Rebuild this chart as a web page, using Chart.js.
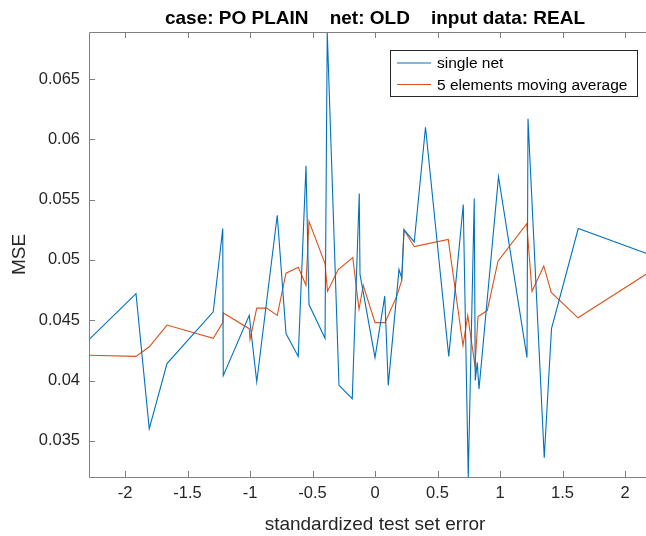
<!DOCTYPE html>
<html>
<head>
<meta charset="utf-8">
<script src="https://cdn.jsdelivr.net/npm/chart.js@4.4.0/dist/chart.umd.min.js"></script>
<style>
  html, body { margin: 0; padding: 0; overflow: hidden; background: #fff; }
  #wrap { width: 680px; height: 536px; }
</style>
</head>
<body>
<div id="wrap"><canvas id="chart" width="680" height="536"></canvas></div>
<script>
// single net
const netX = [-2.288, -1.912, -1.806, -1.664, -1.294, -1.218, -1.214, -1.006, -0.946, -0.782,
  -0.712, -0.614, -0.552, -0.528, -0.400, -0.382, -0.288, -0.182, -0.126, -0.120,
  0.000, 0.078, 0.106, 0.192, 0.214, 0.232, 0.314, 0.404, 0.590, 0.706,
  0.746, 0.794, 0.802, 0.818, 0.832, 0.988, 1.216, 1.224, 1.354, 1.412, 1.626, 2.288];
const netMse = [0.0434, 0.0472, 0.0360, 0.0414, 0.0457, 0.0526, 0.0404, 0.0454, 0.0399, 0.0537,
  0.0439, 0.0420, 0.0578, 0.0463, 0.0435, 0.0689, 0.0396, 0.0385, 0.0555, 0.0488,
  0.0419, 0.0470, 0.0396, 0.0492, 0.0485, 0.0525, 0.0515, 0.0610, 0.0420, 0.0546,
  0.0320, 0.0551, 0.0400, 0.0415, 0.0393, 0.0569, 0.0419, 0.0617, 0.0336, 0.0443, 0.0526, 0.0501];

// 5 elements moving average
const avgX = [-2.288, -1.912, -1.806, -1.664, -1.294, -1.218, -1.214, -1.006, -1.000, -0.946,
  -0.866, -0.782, -0.712, -0.614, -0.552, -0.528, -0.400, -0.380, -0.294, -0.178,
  -0.128, -0.094, 0.000, 0.080, 0.174, 0.214, 0.232, 0.314, 0.586, 0.704,
  0.742, 0.800, 0.824, 0.898, 0.984, 1.214, 1.256, 1.350, 1.410, 1.624, 2.288];
const avgMse = [0.0421, 0.0420, 0.0428, 0.0446, 0.0435, 0.0448, 0.0456, 0.0443, 0.0434, 0.0460,
  0.0460, 0.0454, 0.0489, 0.0494, 0.0479, 0.0532, 0.0497, 0.0474, 0.0492, 0.0502,
  0.0459, 0.0479, 0.0448, 0.0448, 0.0470, 0.0483, 0.0525, 0.0511, 0.0517, 0.0429,
  0.0454, 0.0412, 0.0453, 0.0458, 0.0499, 0.0530, 0.0474, 0.0495, 0.0473, 0.0452, 0.0496];

const xTicks = [-2, -1.5, -1, -0.5, 0, 0.5, 1, 1.5, 2];
const yTicks = [0.035, 0.04, 0.045, 0.05, 0.055, 0.06, 0.065];

const titleText = 'case: PO PLAIN    net: OLD    input data: REAL';
const FONT = '"Liberation Sans", Arial, Helvetica, sans-serif';

// matlab style box, inward ticks, title and legend
const axesBox = {
  id: 'axesBox',
  afterDraw(chart) {
    const { ctx, chartArea: a, scales } = chart;
    ctx.save();
    ctx.strokeStyle = '#7f7f7f';
    ctx.lineWidth = 1;
    ctx.beginPath();
    ctx.rect(a.left + 0.5, a.top + 0.5, a.right - a.left, a.bottom - a.top);
    xTicks.forEach(v => {
      const px = Math.round(scales.x.getPixelForValue(v)) + 0.5;
      ctx.moveTo(px, a.bottom); ctx.lineTo(px, a.bottom - 6);
      ctx.moveTo(px, a.top); ctx.lineTo(px, a.top + 6);
    });
    yTicks.forEach(v => {
      const py = Math.round(scales.y.getPixelForValue(v)) + 0.5;
      ctx.moveTo(a.left, py); ctx.lineTo(a.left + 6, py);
      ctx.moveTo(a.right, py); ctx.lineTo(a.right - 6, py);
    });
    ctx.stroke();

    // title
    ctx.fillStyle = '#000';
    ctx.font = 'bold 19px ' + FONT;
    ctx.textAlign = 'center';
    ctx.textBaseline = 'alphabetic';
    ctx.fillText(titleText, (a.left + a.right) / 2, 24);

    // legend
    const lx = 390.5, ly = 50.5, lw = 247, lh = 46;
    ctx.fillStyle = '#fff';
    ctx.fillRect(lx, ly, lw, lh);
    ctx.strokeStyle = '#262626';
    ctx.strokeRect(lx, ly, lw, lh);
    ctx.font = '15.5px ' + FONT;
    ctx.textAlign = 'left';
    ctx.textBaseline = 'middle';
    chart.data.datasets.forEach((ds, i) => {
      const yy = 63 + i * 21.5;
      ctx.strokeStyle = ds.borderColor;
      ctx.lineWidth = 1.1;
      ctx.beginPath();
      ctx.moveTo(397, yy); ctx.lineTo(431, yy);
      ctx.stroke();
      ctx.fillStyle = '#000';
      ctx.fillText(ds.label, 437, yy + 1);
    });
    ctx.restore();
  }
};

const ctx = document.getElementById('chart').getContext('2d');
new Chart(ctx, {
  type: 'scatter',
  data: {
    datasets: [
      {
        label: 'single net',
        data: netX.map((x, i) => ({ x: x, y: netMse[i] })),
        showLine: true, borderColor: '#0072BD', borderWidth: 1.1,
        pointRadius: 0, tension: 0, clip: 2
      },
      {
        label: '5 elements moving average',
        data: avgX.map((x, i) => ({ x: x, y: avgMse[i] })),
        showLine: true, borderColor: '#D95319', borderWidth: 1.1,
        pointRadius: 0, tension: 0, clip: 2
      }
    ]
  },
  options: {
    responsive: false,
    animation: false,
    devicePixelRatio: 1,
    layout: { padding: { top: 32, right: 19, left: 0, bottom: 0 } },
    plugins: { legend: { display: false }, title: { display: false }, tooltip: { enabled: false } },
    scales: {
      x: {
        type: 'linear', min: -2.288, max: 2.288,
        grid: { display: false, drawTicks: false },
        border: { display: false },
        afterBuildTicks: s => { s.ticks = xTicks.map(v => ({ value: v })); },
        afterFit: s => { s.height = 59; },
        ticks: {
          font: { family: FONT, size: 16.5 }, color: '#262626', padding: 7,
          maxRotation: 0, autoSkip: false,
          callback: v => String(v)
        },
        title: {
          display: true, text: 'standardized test set error',
          font: { family: FONT, size: 19 }, color: '#262626',
          padding: { top: 0, bottom: 0 }
        }
      },
      y: {
        type: 'linear', min: 0.0320, max: 0.0689,
        grid: { display: false, drawTicks: false },
        border: { display: false },
        afterBuildTicks: s => { s.ticks = yTicks.map(v => ({ value: v })); },
        afterFit: s => { s.width = 89; },
        ticks: {
          font: { family: FONT, size: 16.5 }, color: '#262626', padding: 9,
          callback: v => String(+v.toFixed(3))
        },
        title: {
          display: true, text: 'MSE',
          font: { family: FONT, size: 19 }, color: '#262626',
          padding: { top: 8, bottom: 0 }
        }
      }
    }
  },
  plugins: [axesBox]
});
</script>
</body>
</html>
